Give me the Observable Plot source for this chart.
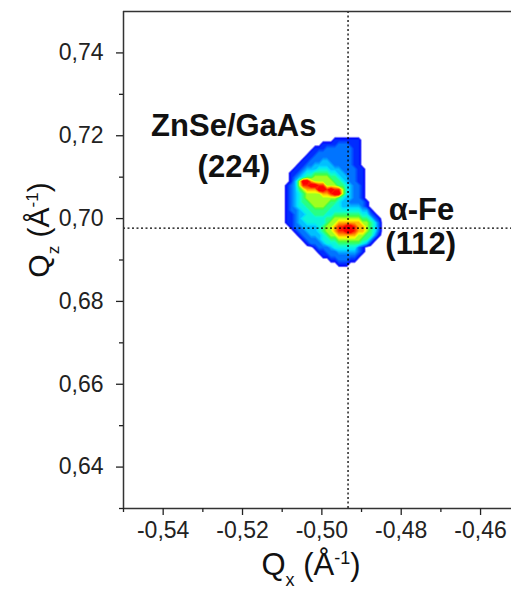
<!DOCTYPE html>
<html><head><meta charset="utf-8">
<script src="https://cdn.jsdelivr.net/npm/d3@7"></script>
<script src="https://cdn.jsdelivr.net/npm/@observablehq/plot@0.6"></script>
<style>body{margin:0;background:#fff} svg{display:block}</style>
</head><body><div id="chart"></div>
<script>
// ---- axes ----
const xDomain = [-0.55, -0.4522];
const yDomain = [0.63, 0.75];
const xMajor = [-0.54, -0.52, -0.50, -0.48, -0.46];
const xMinor = [-0.55, -0.53, -0.51, -0.49, -0.47];
const yMajor = [0.64, 0.66, 0.68, 0.70, 0.72, 0.74];
const yMinor = [0.63, 0.65, 0.67, 0.69, 0.71, 0.73];
// ---- dotted reference lines (alpha-Fe peak position) ----
const refX = [-0.4934];
const refY = [0.6977];
// ---- reciprocal space map: intensity level (0..9) on a 0.001 grid ----
const gridX = [-0.5112, -0.4832];   // Qx extent of the grid (28 columns)
const gridY = [0.7215, 0.6875];     // Qz extent of the grid (34 rows, top to bottom)
const intensityRows = [
  "0000000000000000000000000000",
  "0000000000000000000000000000",
  "0000000000000011111110000000",
  "0000000000011112221110000000",
  "0000000001112222222110000000",
  "0000000011222222222110000000",
  "0000000112222222222110000000",
  "0000001122233222222110000000",
  "0000011223333322222110000000",
  "0000112333444333222211000000",
  "0001123445555443322211000000",
  "0001234556666554332211000000",
  "0001369976666655432211000000",
  "0012368899886665543221000000",
  "0012356777998988643221000000",
  "0012345666677899643221000000",
  "0012345666666665433221000000",
  "0012345566666554332222100000",
  "0012344556665544333332100000",
  "0012234455555444444443310000",
  "0011233445554455555554421000",
  "0011234444445566666665542100",
  "0011233444445667777776654200",
  "0001223333456678899877654200",
  "0000122333456678899877654200",
  "0000012233345667777766553100",
  "0000001222344556666665531000",
  "0000000122234445555554310000",
  "0000000001222344444421000000",
  "0000000000112223333321000000",
  "0000000000011222222210000000",
  "0000000000000112221100000000",
  "0000000000000001110000000000",
  "0000000000000000000000000000"
];
const levelStops  = [0.4, 1.5, 2.5, 3.4, 4.3, 5.3, 6.3, 7.2, 8.2];
const levelColors = ["#0000ff", "#0050ff", "#0098ff", "#00e0ff", "#10ffc8", "#40ff40", "#ffff00", "#ff8000", "#ff0000"];
// ---- peak labels ----
const labelLines  = ["ZnSe/GaAs", "(224)", "α-Fe", "(112)"];
const labelQx     = [-0.5222, -0.5222, -0.4749, -0.4751];
const labelQz     = [0.7224, 0.7124, 0.7020, 0.6938];

const gw = intensityRows[0].length, gh = intensityRows.length;
const intensity = intensityRows.flatMap(r => Array.from(r, Number));
const thresholds = d3.range(0.4, 8.8, 0.2);
const comma = d => d.toFixed(2).replace(".", ",");
const labels = labelLines.map((t, i) => ({t, x: labelQx[i], y: labelQz[i]}));
const axisColor = "#333";
const grid = {x1: gridX[0], x2: gridX[1], y1: gridY[0], y2: gridY[1], width: gw, height: gh};

const svg = Plot.plot({
  width: 511, height: 589,
  marginLeft: 123, marginRight: 0, marginTop: 11, marginBottom: 81,
  style: {fontFamily: "'Liberation Sans', Arial, sans-serif", fontSize: "23px", background: "#fff", color: "#111"},
  x: {domain: xDomain, axis: null},
  y: {domain: yDomain, axis: null},
  color: {type: "linear", domain: levelStops, range: levelColors, clamp: true},
  marks: [
    Plot.contour(intensity, {...grid, fill: Plot.identity, thresholds, stroke: "none"}),
    Plot.contour(intensity, {...grid, thresholds: [0.4], fill: "none", stroke: "#6a6aff", strokeWidth: 1.4, strokeOpacity: 0.55}),
    Plot.ruleX(refX, {stroke: "#000", strokeWidth: 1.3, strokeDasharray: "2,2.5"}),
    Plot.ruleY(refY, {stroke: "#000", strokeWidth: 1.3, strokeDasharray: "2,2.5"}),
    Plot.ruleX([xDomain[0]], {stroke: axisColor, strokeWidth: 1.5}),
    Plot.ruleY([yDomain[0]], {stroke: axisColor, strokeWidth: 1.5}),
    Plot.ruleY([yDomain[1]], {stroke: axisColor, strokeWidth: 1.5}),
    Plot.axisX(xMajor, {anchor: "bottom", tickSize: 7, tickPadding: 6, tickFormat: comma, label: null, color: "#222", strokeWidth: 1.3, fontSize: 23}),
    Plot.axisX(xMinor, {anchor: "bottom", tickSize: 4, tickFormat: () => "", label: null, color: "#222", strokeWidth: 1.3}),
    Plot.axisY(yMajor, {anchor: "left", tickSize: 7, tickPadding: 13, tickFormat: comma, label: null, color: "#222", strokeWidth: 1.3, fontSize: 23}),
    Plot.axisY(yMinor, {anchor: "left", tickSize: 4, tickFormat: () => "", label: null, color: "#222", strokeWidth: 1.3}),
    Plot.text(labels, {x: "x", y: "y", text: "t", textAnchor: "middle", fontSize: 31, fontWeight: "bold", fill: "#111", lineAnchor: "middle"})
  ]
});

// axis titles with sub/superscripts
const s = d3.select(svg);
const fam = "'Liberation Sans', Arial, sans-serif";
const xt = s.append("text").attr("x", 311).attr("y", 575).attr("text-anchor", "middle").attr("font-size", 31).attr("font-family", fam).attr("fill", "#111");
xt.append("tspan").text("Q");
xt.append("tspan").attr("font-size", 18).attr("dy", 11).text("x");
xt.append("tspan").attr("dy", -11).text(" (Å");
xt.append("tspan").attr("font-size", 18).attr("dy", -11).text("-1");
xt.append("tspan").attr("dy", 11).text(")");

const yt = s.append("text").attr("transform", "translate(49,230) rotate(-90)").attr("text-anchor", "middle").attr("font-size", 30).attr("font-family", fam).attr("fill", "#111");
yt.append("tspan").text("Q");
yt.append("tspan").attr("font-size", 17).attr("dy", 10).text("z");
yt.append("tspan").attr("dy", -10).text(" (Å");
yt.append("tspan").attr("font-size", 17).attr("dy", -11).text("-1");
yt.append("tspan").attr("dy", 11).text(")");

document.getElementById("chart").appendChild(svg);
</script></body></html>
